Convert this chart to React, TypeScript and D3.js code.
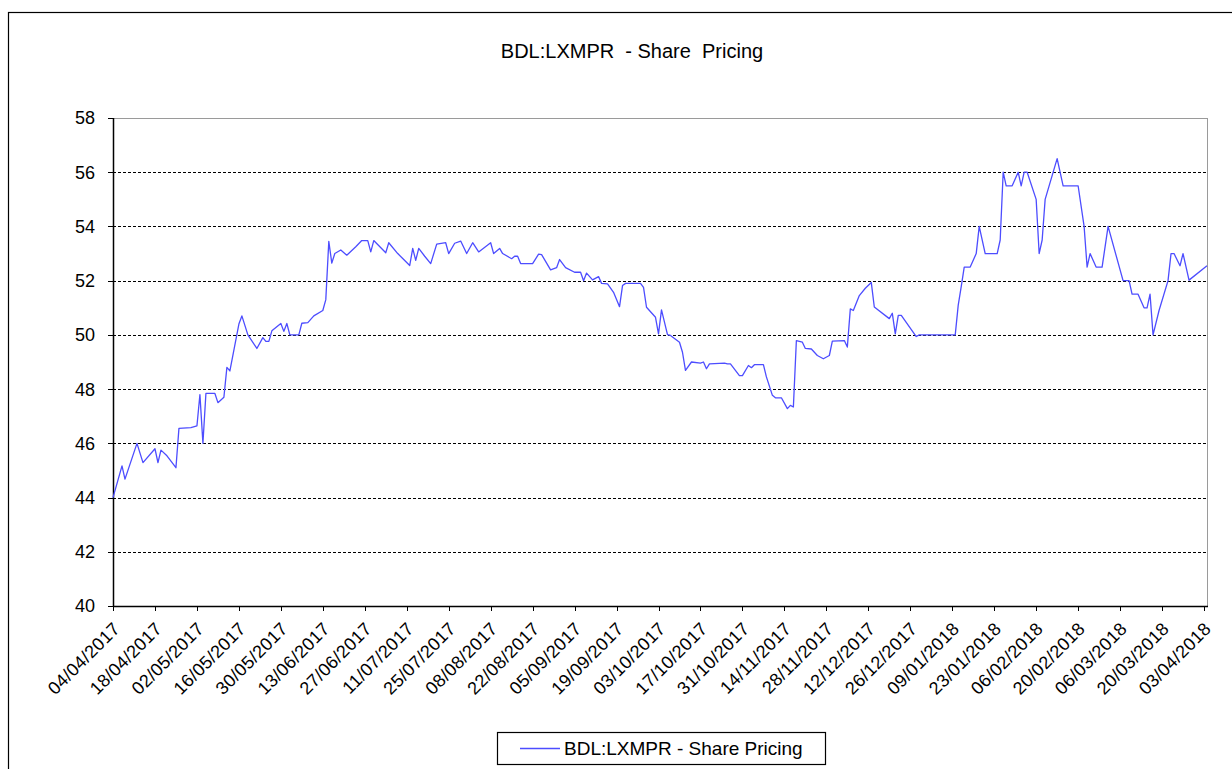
import React from "react";
import * as d3 from "d3";

const title = "BDL:LXMPR  - Share  Pricing";
const seriesName = "BDL:LXMPR - Share Pricing";

const dates: string[] = [
  "2017-04-04","2017-04-07","2017-04-08","2017-04-12","2017-04-14","2017-04-18","2017-04-19","2017-04-20","2017-04-22","2017-04-25",
  "2017-04-26","2017-04-30","2017-05-02","2017-05-03","2017-05-04","2017-05-05","2017-05-08","2017-05-09","2017-05-11","2017-05-12",
  "2017-05-13","2017-05-16","2017-05-17","2017-05-19","2017-05-22","2017-05-24","2017-05-25","2017-05-26","2017-05-27","2017-05-30",
  "2017-05-31","2017-06-01","2017-06-02","2017-06-05","2017-06-06","2017-06-08","2017-06-10","2017-06-13","2017-06-14","2017-06-15",
  "2017-06-16","2017-06-17","2017-06-19","2017-06-21","2017-06-24","2017-06-26","2017-06-28","2017-06-29","2017-06-30","2017-07-04",
  "2017-07-05","2017-07-08","2017-07-10","2017-07-12","2017-07-13","2017-07-14","2017-07-15","2017-07-17","2017-07-19","2017-07-21",
  "2017-07-24","2017-07-25","2017-07-27","2017-07-29","2017-07-31","2017-08-02","2017-08-04","2017-08-08","2017-08-09","2017-08-11",
  "2017-08-12","2017-08-15","2017-08-16","2017-08-17","2017-08-18","2017-08-22","2017-08-24","2017-08-25","2017-08-28","2017-08-30",
  "2017-08-31","2017-09-02","2017-09-05","2017-09-07","2017-09-08","2017-09-09","2017-09-11","2017-09-13","2017-09-14","2017-09-16",
  "2017-09-18","2017-09-20","2017-09-21","2017-09-22","2017-09-27","2017-09-28","2017-09-29","2017-10-02","2017-10-03","2017-10-04",
  "2017-10-06","2017-10-07","2017-10-10","2017-10-11","2017-10-12","2017-10-14","2017-10-17","2017-10-18","2017-10-19","2017-10-20",
  "2017-10-25","2017-10-26","2017-10-27","2017-10-30","2017-10-31","2017-11-02","2017-11-03","2017-11-04","2017-11-07","2017-11-08",
  "2017-11-10","2017-11-11","2017-11-13","2017-11-15","2017-11-16","2017-11-17","2017-11-18","2017-11-20","2017-11-21","2017-11-23",
  "2017-11-25","2017-11-27","2017-11-29","2017-11-30","2017-12-04","2017-12-05","2017-12-06","2017-12-07","2017-12-09","2017-12-11",
  "2017-12-13","2017-12-14","2017-12-19","2017-12-20","2017-12-21","2017-12-22","2017-12-23","2017-12-28","2017-12-29","2018-01-10",
  "2018-01-11","2018-01-12","2018-01-13","2018-01-15","2018-01-17","2018-01-18","2018-01-20","2018-01-24","2018-01-25","2018-01-26",
  "2018-01-27","2018-01-29","2018-01-31","2018-02-01","2018-02-02","2018-02-03","2018-02-06","2018-02-07","2018-02-08","2018-02-09",
  "2018-02-13","2018-02-15","2018-02-20","2018-02-22","2018-02-23","2018-02-24","2018-02-26","2018-02-28","2018-03-02","2018-03-07",
  "2018-03-09","2018-03-10","2018-03-12","2018-03-14","2018-03-15","2018-03-16","2018-03-17","2018-03-19","2018-03-22","2018-03-23",
  "2018-03-24","2018-03-26","2018-03-27","2018-03-29","2018-04-04"
];

const prices: number[] = [
  44.0,45.17,44.68,46.0,45.29,45.8,45.29,45.75,45.54,45.1,
  46.55,46.58,46.64,47.8,46.0,47.84,47.84,47.5,47.7,48.8,
  48.67,50.4,50.7,50.0,49.5,49.9,49.76,49.76,50.15,50.42,
  50.13,50.42,50.0,50.0,50.43,50.45,50.7,50.9,51.3,53.45,
  52.65,53.0,53.13,52.94,53.25,53.48,53.48,53.06,53.48,53.03,
  53.4,53.0,52.78,52.56,53.19,52.75,53.19,52.9,52.63,53.35,
  53.4,53.0,53.38,53.46,53.0,53.4,53.06,53.4,53.0,53.19,
  53.0,52.81,52.9,52.9,52.63,52.63,52.98,52.96,52.4,52.48,
  52.78,52.48,52.31,52.31,52.0,52.28,52.03,52.15,51.9,51.88,
  51.57,51.04,51.82,51.9,51.9,51.75,51.02,50.65,50.04,50.92,
  50.01,49.98,49.73,49.36,48.69,49.0,48.96,49.0,48.75,48.93,
  48.96,48.93,48.93,48.5,48.5,48.87,48.79,48.9,48.9,48.45,
  47.77,47.68,47.68,47.28,47.4,47.34,49.79,49.73,49.5,49.48,
  49.24,49.12,49.24,49.77,49.79,49.55,50.96,50.9,51.45,51.72,
  51.93,51.03,50.6,50.8,50.04,50.72,50.72,49.94,50.0,50.0,
  51.1,51.78,52.5,52.5,53.0,54.0,53.0,53.0,53.5,56.0,
  55.5,55.5,56.0,55.5,56.0,56.0,55.0,53.0,53.5,55.0,
  56.5,55.5,55.5,54.0,52.5,53.0,52.5,52.5,54.0,52.0,
  52.0,51.5,51.5,51.0,51.0,51.5,50.0,50.9,52.0,53.0,
  53.0,52.55,53.0,52.02,52.55
];

const yTicks: number[] = [40, 42, 44, 46, 48, 50, 52, 54, 56, 58];
const xTickLabels: string[] = [
  "04/04/2017","18/04/2017","02/05/2017","16/05/2017","30/05/2017","13/06/2017","27/06/2017",
  "11/07/2017","25/07/2017","08/08/2017","22/08/2017","05/09/2017","19/09/2017","03/10/2017",
  "17/10/2017","31/10/2017","14/11/2017","28/11/2017","12/12/2017","26/12/2017","09/01/2018",
  "23/01/2018","06/02/2018","20/02/2018","06/03/2018","20/03/2018","03/04/2018"
];

const parseIso = d3.timeParse("%Y-%m-%d");
const parseTick = d3.timeParse("%d/%m/%Y");

export default function App() {
  const left = 113, right = 1207, top = 118, bottom = 606;
  const x = d3.scaleTime()
    .domain([parseIso("2017-04-04") as Date, parseIso("2018-04-04") as Date])
    .range([left, right]);
  const y = d3.scaleLinear().domain([40, 58]).range([bottom, top]);
  const data = dates.map((d, i) => ({ date: parseIso(d) as Date, v: prices[i] }));
  const line = d3.line<{ date: Date; v: number }>()
    .x(d => x(d.date))
    .y(d => y(d.v));
  const font = "'Liberation Sans', Arial, sans-serif";

  return (
    <svg width={1232} height={769} style={{ position: "absolute", left: 0, top: 0, background: "#fff" }}
      fontFamily={font}>
      <rect x={8.5} y={12.5} width={1240} height={800} fill="#fff" stroke="#000" strokeWidth={1.2} />
      <text x={632} y={58} textAnchor="middle" fontSize={20} fill="#000" style={{ whiteSpace: "pre" }}>{title}</text>

      {/* gridlines */}
      {yTicks.filter(t => t > 40 && t < 58).map(t => (
        <line key={"g" + t} x1={left} x2={right} y1={Math.round(y(t)) + 0.5} y2={Math.round(y(t)) + 0.5}
          stroke="#000" strokeWidth={1} strokeDasharray="3,2" />
      ))}
      {/* top and right border */}
      <line x1={left} x2={right} y1={top + 0.5} y2={top + 0.5} stroke="#9a9a9a" strokeWidth={1} />
      <line x1={right + 0.5} x2={right + 0.5} y1={top} y2={bottom} stroke="#9a9a9a" strokeWidth={1} />

      {/* y axis */}
      <line x1={left + 0.5} x2={left + 0.5} y1={top} y2={bottom + 1} stroke="#000" strokeWidth={1.5} />
      {yTicks.map(t => (
        <g key={"y" + t}>
          <line x1={left - 5} x2={left} y1={Math.round(y(t)) + 0.5} y2={Math.round(y(t)) + 0.5} stroke="#000" />
          <text x={95} y={y(t)} dy="0.36em" textAnchor="end" fontSize={18} fill="#000">{t}</text>
        </g>
      ))}

      {/* x axis */}
      <line x1={left} x2={right + 1} y1={bottom + 0.5} y2={bottom + 0.5} stroke="#000" strokeWidth={1.5} />
      {xTickLabels.map(lbl => {
        const tx = x(parseTick(lbl) as Date);
        return (
          <g key={lbl}>
            <line x1={Math.round(tx) + 0.5} x2={Math.round(tx) + 0.5} y1={bottom} y2={bottom + 5} stroke="#000" />
            <text transform={`translate(${tx + 8},${bottom + 24}) rotate(-45)`} textAnchor="end"
              fontSize={18} letterSpacing={0.3} fill="#000">{lbl}</text>
          </g>
        );
      })}

      {/* series */}
      <path d={line(data) || ""} fill="none" stroke="#4d4dff" strokeWidth={1.3} strokeLinejoin="round" />

      {/* legend */}
      <rect x={497.5} y={732.5} width={328} height={32} fill="#fff" stroke="#000" strokeWidth={1.2} />
      <line x1={520} x2={560} y1={748.5} y2={748.5} stroke="#4d4dff" strokeWidth={1.3} />
      <text x={564} y={755} fontSize={19} fill="#000">{seriesName}</text>
    </svg>
  );
}
